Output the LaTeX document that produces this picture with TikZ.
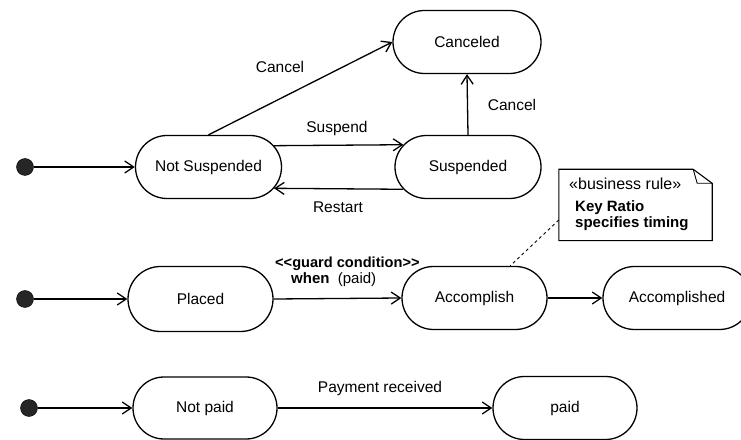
\documentclass[tikz,border=0pt]{standalone}
\usepackage{fontspec}
\setmainfont{Liberation Sans}
\usetikzlibrary{arrows.meta,shapes.misc}
\begin{document}
\begin{tikzpicture}[x=1pt,y=1pt,
  state/.style={draw, line width=1.3pt, rounded rectangle, rounded rectangle arc length=180,
    minimum width=146pt, minimum height=63pt, inner sep=0pt,
    font=\fontsize{15.5}{18}\selectfont},
  initdot/.style={circle, fill=black!85, draw=black, minimum size=17pt, inner sep=0pt},
  trans/.style={line width=1.3pt, -{Straight Barb[length=9pt,width=12pt,line width=1.3pt]}},
  lbl/.style={font=\fontsize{15.5}{18}\selectfont, inner sep=0pt},
  notetext/.style={inner sep=0pt, anchor=west}
]
\useasboundingbox (0,0) rectangle (741,439);

% row 1
\node[initdot] (d1) at (25,272) {};
\node[state] (ns) at (208.5,272) {Not Suspended};
\node[state, minimum width=148pt] (cl) at (467,397) {Canceled};
\node[state] (su) at (468,272) {Suspended};

\draw[trans] (d1) -- (ns.west);
\draw[trans] (ns.north) -- (cl.west);
\draw[trans] (su.north) -- (cl.south);
\draw[trans] (ns.18.8) -- (su.161.1);
\draw[trans] (su.-161.1) -- (ns.-18.8);

\node[lbl] (lc1) at (280,372) {Cancel};
\node[lbl] (lc2) at (512,334) {Cancel};
\node[lbl] (lsu) at (337,311) {Suspend};
\node[lbl] (lre) at (338,232) {Restart};

% note
\node[minimum width=153pt, minimum height=71pt, inner sep=0pt] (note) at (635.5,234) {};
\draw[line width=1.1pt] (note.south west) -- (note.north west) -- ([xshift=-19pt]note.north east)
  -- ([yshift=-14pt]note.north east) -- (note.south east) -- cycle;
\draw[line width=0.9pt] ([xshift=-19pt]note.north east) -- ([xshift=-15pt,yshift=-14pt]note.north east)
  -- ([yshift=-14pt]note.north east);
\node[notetext, font=\fontsize{16}{18}\selectfont] (n1) at (569,255) {«business rule»};
\node[notetext, font=\bfseries\fontsize{15}{16}\selectfont] (n2) at (575,231) {Key Ratio};
\node[notetext, font=\bfseries\fontsize{15}{16}\selectfont] (n3) at (575,215) {specifies timing};

% row 2
\node[initdot] (d2) at (25,140) {};
\node[state, minimum width=145pt, minimum height=65pt] (pl) at (200.5,140) {Placed};
\node[state, minimum width=145pt] (ac) at (474.5,141) {Accomplish};
\node[state, minimum width=148pt] (acd) at (677,141) {Accomplished};

\draw[trans] (d2) -- (pl.west);
\draw[trans] (pl.east) -- (ac.west);
\draw[trans] (ac.east) -- (acd.west);
\draw[line width=0.9pt, dashed] ([yshift=-15pt]note.west) -- (ac.42);

\node[lbl, anchor=west, font=\bfseries\fontsize{14.6}{16}\selectfont] (g1) at (275,175) {<{}<guard condition>{}>};
\node[lbl, anchor=west, font=\fontsize{15}{16}\selectfont] (g2) at (291,159) {\textbf{when}\ \ (paid)};

% row 3
\node[initdot] (d3) at (29,31) {};
\node[state, minimum width=144pt, minimum height=62pt] (np) at (205,31) {Not paid};
\node[state, minimum width=144pt] (pd) at (565,31) {paid};

\draw[trans] (d3) -- (np.west);
\draw[trans] (np.east) -- (pd.west);
\node[lbl] (lpr) at (380,51) {Payment received};
\end{tikzpicture}
\end{document}
